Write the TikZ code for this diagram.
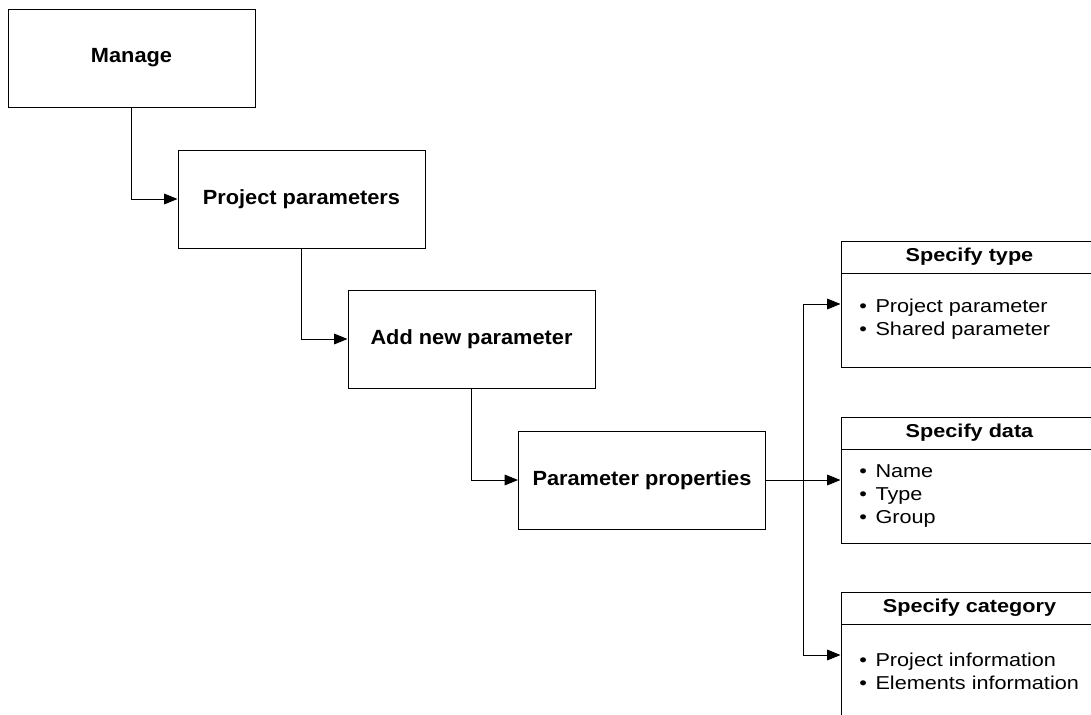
\documentclass[tikz,border=0pt]{standalone}
\usepackage{fontspec}
\setmainfont{Liberation Sans}
\newfontfamily\boxfont{Liberation Sans}[FakeStretch=1.06]
\newfontfamily\sidefont{Liberation Sans}[FakeStretch=1.16]
\usetikzlibrary{arrows.meta}
\newcommand{\bul}{\textbullet\kern6.5pt}
\begin{document}
\begin{tikzpicture}[x=0.75pt,y=-0.75pt,
  mainbox/.style={draw, line width=0.75pt, minimum width=185.25pt, minimum height=73.5pt, inner sep=0pt,
    font=\boxfont\bfseries\fontsize{15.4}{18}\selectfont},
  sidebox/.style={draw, line width=0.75pt, minimum width=192.75pt, minimum height=94.5pt, inner sep=0pt},
  sidetitle/.style={draw, line width=0.75pt, minimum width=192.75pt, minimum height=24pt, anchor=north, inner sep=0pt,
    font=\sidefont\bfseries\fontsize{14}{16}\selectfont},
  sidebody/.style={anchor=west, align=left, inner sep=0pt,
    font=\sidefont\fontsize{14}{17.25}\selectfont},
  link/.style={draw, line width=0.75pt, -{Triangle[length=10pt,width=8pt]}},
  plainlink/.style={draw, line width=0.75pt}]
\useasboundingbox (0,0) rectangle (1091,714);
\clip (0,0) rectangle (1091,714);

% main chain
\node[mainbox] (manage) at (131.5,58) {Manage};
\node[mainbox] (projpar) at (301.5,199) {Project parameters};
\node[mainbox] (addnew) at (471.5,339) {Add new parameter};
\node[mainbox] (paramprop) at (642,480) {Parameter properties};

% side boxes
\node[sidebox] (stype) at (969.5,304) {};
\node[sidetitle] (stypet) at (stype.north) {Specify type};
\node[sidebody] (stypeb) at (859,319) {\bul Project parameter\\\bul Shared parameter};

\node[sidebox] (sdata) at (969.5,480) {};
\node[sidetitle] (sdatat) at (sdata.north) {Specify data};
\node[sidebody] (sdatab) at (859,496) {\bul Name\\\bul Type\\\bul Group};

\node[sidebox] (scat) at (969.5,655) {};
\node[sidetitle] (scatt) at (scat.north) {Specify category};
\node[sidebody] (scatb) at (859,671) {\bul Project information\\\bul Elements information};

% connectors
\draw[link] (manage.south) |- (projpar.west);
\draw[link] (projpar.south) |- (addnew.west);
\draw[link] (addnew.south) |- (paramprop.west);
\draw[link] (paramprop.east) -- (sdata.west);
\coordinate (jtop) at (803,304);
\coordinate (jbot) at (803,655);
\draw[plainlink] (jtop) -- (jbot);
\draw[link] (jtop) -- (stype.west);
\draw[link] (jbot) -- (scat.west);
\end{tikzpicture}
\end{document}
